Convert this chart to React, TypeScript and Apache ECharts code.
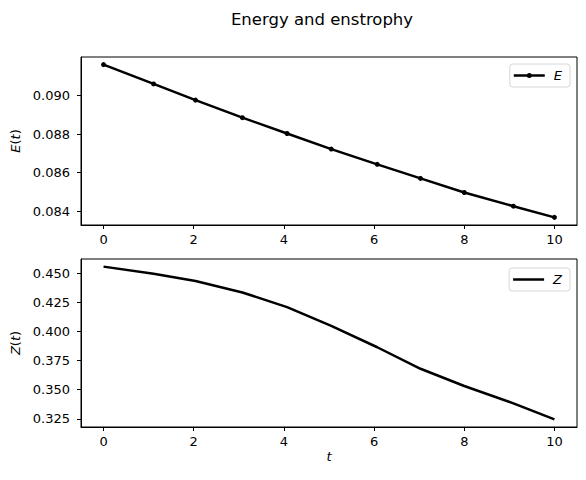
import React, { useEffect, useRef } from "react";
import * as echarts from "echarts";

const times = [0, 1.11, 2.04, 3.08, 4.07, 5.05, 6.07, 7.03, 8.0, 9.09, 10];
const energy = [0.0916, 0.0906, 0.08976, 0.08885, 0.08803, 0.08722, 0.08643, 0.0857, 0.08497, 0.08426, 0.08368];
const enstrophy = [0.4558, 0.4497, 0.4435, 0.4336, 0.421, 0.4048, 0.3865, 0.368, 0.3532, 0.3383, 0.3245];
const xTicks = [0, 2, 4, 6, 8, 10];
const energyTicks = [0.084, 0.086, 0.088, 0.09];
const enstrophyTicks = [0.325, 0.35, 0.375, 0.4, 0.425, 0.45];

const FONT = "DejaVu Sans";

const ICON_LINE_DOT =
  "path://M0,-1.25 H31 V1.25 H0 Z M18,0 A2.5,2.5 0 1 1 13,0 A2.5,2.5 0 1 1 18,0 Z";
const ICON_LINE = "path://M0,-1.25 H31 V1.25 H0 Z";

function padRange(vals: number[]) {
  const lo = Math.min(...vals);
  const hi = Math.max(...vals);
  const m = (hi - lo) * 0.05;
  return [lo - m, hi + m];
}

export default function App() {
  const ref = useRef<HTMLDivElement>(null);
  useEffect(() => {
    if (!ref.current) return;
    const chart = echarts.init(ref.current, undefined, { renderer: "svg" });
    const [xMin, xMax] = padRange(times);
    const [eMin, eMax] = padRange(energy);
    const [zMin, zMax] = padRange(enstrophy);

    const xAxisBase = (gridIndex: number, withName: boolean) => ({
      type: "value",
      gridIndex,
      min: xMin,
      max: xMax,
      splitLine: { show: false },
      axisLine: { show: true, onZero: false, lineStyle: { color: "#000", width: 1 } },
      axisTick: {
        show: true,
        customValues: xTicks,
        length: 4,
        lineStyle: { color: "#000", width: 1 },
      },
      axisLabel: {
        customValues: xTicks,
        color: "#000",
        fontFamily: FONT,
        fontSize: 13,
        margin: 8,
        formatter: (v: number) => String(v),
      },
      name: withName ? "t" : "",
      nameLocation: "middle",
      nameGap: 23,
      nameTextStyle: { color: "#000", fontFamily: FONT, fontSize: 13, fontStyle: "italic" },
    });

    const yAxisBase = (gridIndex: number, lo: number, hi: number, ticks: number[], name: string) => ({
      type: "value",
      gridIndex,
      min: lo,
      max: hi,
      splitLine: { show: false },
      axisLine: { show: true, onZero: false, lineStyle: { color: "#000", width: 1 } },
      axisTick: {
        show: true,
        customValues: ticks,
        length: 4,
        lineStyle: { color: "#000", width: 1 },
      },
      axisLabel: {
        customValues: ticks,
        color: "#000",
        fontFamily: FONT,
        fontSize: 13,
        margin: 11,
        formatter: (v: number) => v.toFixed(3),
      },
      name: "{i|" + name + "}({i|t})",
      nameLocation: "middle",
      nameGap: 53,
      nameTextStyle: {
        color: "#000",
        fontFamily: FONT,
        fontSize: 13,
        rich: { i: { fontStyle: "italic", fontFamily: FONT, fontSize: 13, color: "#000" } },
      },
    });

    const legendBase = (name: string, icon: string, top: number) => ({
      data: [{ name, icon }],
      right: 16,
      top,
      orient: "vertical",
      itemWidth: 31,
      itemHeight: name === "E" ? 5 : 2.5,
      padding: [5, 8, 5, 4],
      backgroundColor: "rgba(255,255,255,0.8)",
      borderColor: "#d6d6d6",
      borderWidth: 1,
      borderRadius: 3,
      textStyle: { color: "#000", fontFamily: FONT, fontSize: 13, fontStyle: "italic", padding: [0, 0, 0, 4] },
    });

    chart.setOption({
      animation: false,
      backgroundColor: "#fff",
      title: {
        text: "Energy and enstrophy",
        left: 317,
        top: 6,
        textAlign: "center",
        textStyle: { color: "#000", fontFamily: FONT, fontSize: 16.5, fontWeight: "normal" },
      },
      grid: [
        { left: 81, top: 57, width: 496, height: 168, show: true, borderColor: "#000", borderWidth: 1, backgroundColor: "transparent" },
        { left: 81, top: 259, width: 496, height: 168, show: true, borderColor: "#000", borderWidth: 1, backgroundColor: "transparent" },
      ],
      xAxis: [xAxisBase(0, false), xAxisBase(1, true)],
      yAxis: [
        yAxisBase(0, eMin, eMax, energyTicks, "E"),
        yAxisBase(1, zMin, zMax, enstrophyTicks, "Z"),
      ],
      legend: [legendBase("E", ICON_LINE_DOT, 64), legendBase("Z", ICON_LINE, 268)],
      series: [
        {
          name: "E",
          type: "line",
          xAxisIndex: 0,
          yAxisIndex: 0,
          data: times.map((t, i) => [t, energy[i]]),
          symbol: "circle",
          symbolSize: 5,
          showSymbol: true,
          lineStyle: { color: "#000", width: 2.5 },
          itemStyle: { color: "#000" },
        },
        {
          name: "Z",
          type: "line",
          xAxisIndex: 1,
          yAxisIndex: 1,
          data: times.map((t, i) => [t, enstrophy[i]]),
          symbol: "none",
          showSymbol: false,
          lineStyle: { color: "#000", width: 2.5 },
          itemStyle: { color: "#000" },
        },
      ],
    });
    return () => chart.dispose();
  }, []);
  return (
    <div
      ref={ref}
      style={{ position: "fixed", left: 0, top: 0, width: 586, height: 480, background: "#fff" }}
    />
  );
}
